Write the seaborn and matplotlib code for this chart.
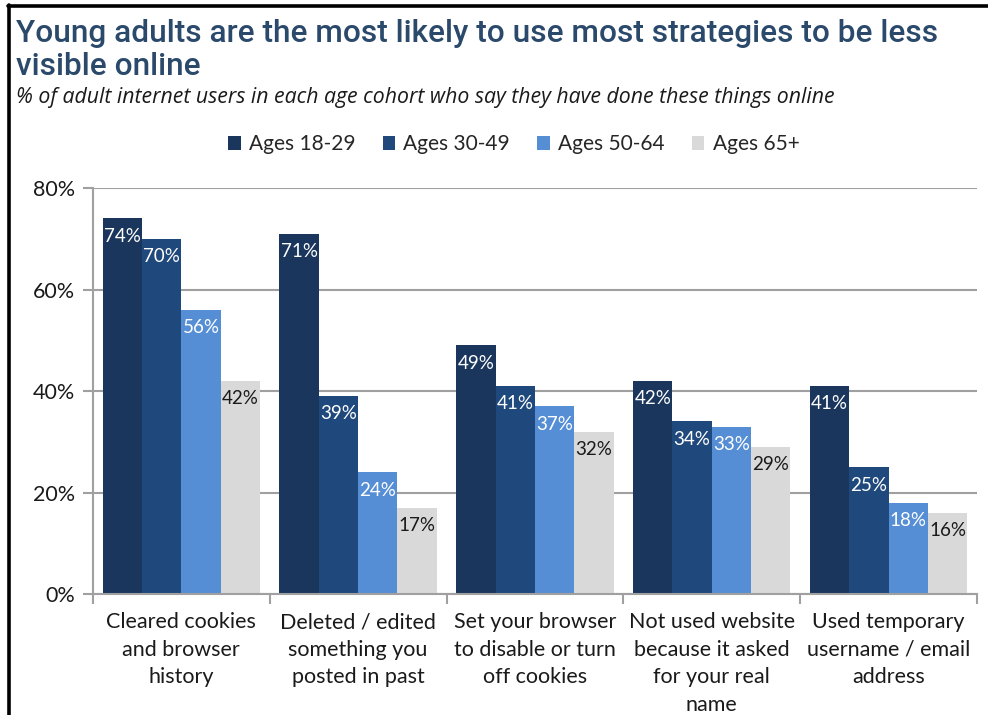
import matplotlib
matplotlib.use("Agg")
import matplotlib.pyplot as plt
from matplotlib.lines import Line2D
from matplotlib.patches import Patch
from matplotlib.ticker import FixedLocator
import seaborn as sns
import pandas as pd

categories = [
    "Cleared cookies\nand browser\nhistory",
    "Deleted / edited\nsomething you\nposted in past",
    "Set your browser\nto disable or turn\noff cookies",
    "Not used website\nbecause it asked\nfor your real\nname",
    "Used temporary\nusername / email\naddress",
]
age_groups = ["Ages 18-29", "Ages 30-49", "Ages 50-64", "Ages 65+"]
ages_18_29 = [74, 71, 49, 42, 41]
ages_30_49 = [70, 39, 41, 34, 25]
ages_50_64 = [56, 24, 37, 33, 18]
ages_65_plus = [42, 17, 32, 29, 16]
y_ticks = [0, 20, 40, 60, 80]

colors = ["#1a365d", "#1f487c", "#558ed5", "#d9d9d9"]
label_colors = ["white", "white", "white", "#1a1a1a"]

series = [ages_18_29, ages_30_49, ages_50_64, ages_65_plus]
rows = []
for grp, vals in zip(age_groups, series):
    for cat, v in zip(categories, vals):
        rows.append({"category": cat, "age": grp, "value": v})
df = pd.DataFrame(rows)

sns.set_theme(style="white")
plt.rcParams["font.family"] = ["Lato", "DejaVu Sans"]

fig = plt.figure(figsize=(9.88, 7.15), dpi=100)
ax = fig.add_axes([0.0941, 0.1692, 0.8947, 0.5678])

sns.barplot(data=df, x="category", y="value", hue="age", order=categories,
            hue_order=age_groups, palette=colors, saturation=1, width=0.89,
            linewidth=0, ax=ax, legend=False)

for cont, lc in zip(ax.containers, label_colors):
    ax.bar_label(cont, labels=[f"{int(round(b.get_height()))}%" for b in cont],
                 padding=-19, color=lc, fontsize=13.5)

ax.set_xlim(-0.5, len(categories) - 0.5)
ax.set_ylim(0, 80)
ax.set_yticks(y_ticks)
ax.set_yticklabels([f"{t}%" for t in y_ticks], fontsize=15.5, color="#1a1a1a")
ax.yaxis.grid(True, color="#a0a0a0", linewidth=1.5)
ax.set_axisbelow(True)
ax.set_xlabel("")
ax.set_ylabel("")

ax.set_xticks(range(len(categories)))
ax.set_xticklabels(categories, fontsize=15.5, color="#1a1a1a", linespacing=1.47,
                   va="top")
ax.tick_params(axis="x", which="major", length=0, pad=13)
ax.xaxis.set_minor_locator(FixedLocator([i - 0.5 for i in range(len(categories) + 1)]))
ax.tick_params(axis="x", which="minor", length=7, width=1.5, color="#a0a0a0",
               direction="out", bottom=True)
ax.tick_params(axis="y", length=7, width=1.5, color="#a0a0a0", direction="out",
               left=True, pad=6)

for side in ["top", "right"]:
    ax.spines[side].set_visible(False)
for side in ["left", "bottom"]:
    ax.spines[side].set_color("#a0a0a0")
    ax.spines[side].set_linewidth(1.5)

handles = [Patch(facecolor=c, edgecolor="none") for c in colors]
fig.legend(handles, age_groups, loc="center", bbox_to_anchor=(0.520, 0.798),
           ncol=4, frameon=False, fontsize=15, handlelength=0.6,
           handleheight=0.6, handletextpad=0.4, columnspacing=1.3)

fig.text(0.016, 0.973, "Young adults are the most likely to use most strategies to be less\nvisible online",
         fontsize=22.8, color="#2b4a6b", fontweight="medium", va="top",
         linespacing=1.15, family=["Roboto", "DejaVu Sans"])
fig.text(0.016, 0.879, "% of adult internet users in each age cohort who say they have done these things online",
         fontsize=15.3, color="#1a1a1a", style="italic", va="top",
         family=["Open Sans", "DejaVu Sans"])

# outer frame lines on the left and top edges
fig.add_artist(Line2D([0.0095, 0.0095], [0, 0.993], transform=fig.transFigure,
                      color="black", linewidth=2.6))
fig.add_artist(Line2D([0.0083, 1.0], [0.992, 0.992], transform=fig.transFigure,
                      color="black", linewidth=2.6))

fig.savefig("out.png", dpi=100)
